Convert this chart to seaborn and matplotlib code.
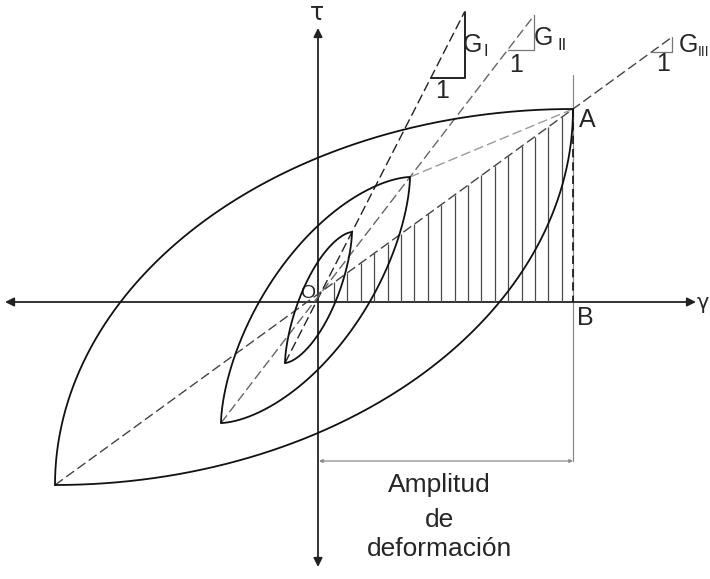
import numpy as np
import pandas as pd
import matplotlib
matplotlib.use("Agg")
import matplotlib.pyplot as plt
import seaborn as sns

sns.set_theme(style="white")
plt.rcParams["font.family"] = ["Liberation Sans", "DejaVu Sans"]

# Hysteresis loops: negative and positive tips (shear strain gamma, shear stress tau)
loop_names = ["small", "medium", "large"]
tip_neg_gamma = [-33, -97, -263]
tip_neg_tau = [-61, -121, -183]
tip_pos_gamma = [34, 92, 255]
tip_pos_tau = [70, 125, 193]
# shape exponent of each loop branch (2 = elliptical arc)
loop_fullness = [1.6, 1.65, 2.0]

# secant modulus labels for the three loops
modulus_labels = ["I", "II", "III"]


def loop_branches(g0, t0, g1, t1, p, n=300):
    s = np.linspace(0, 1, n)
    u = (1 - np.cos(np.pi * s)) / 2
    f = (1 - (1 - u) ** p) ** (1 / p)
    g = g0 + u * (g1 - g0)
    upper = t0 + f * (t1 - t0)
    lower = t0 + (1 - f[::-1]) * (t1 - t0)
    return g, upper, lower


frames = []
for name, g0, t0, g1, t1, p in zip(loop_names, tip_neg_gamma, tip_neg_tau,
                                   tip_pos_gamma, tip_pos_tau, loop_fullness):
    g, up, lo = loop_branches(g0, t0, g1, t1, p)
    frames.append(pd.DataFrame({"gamma": g, "tau": up, "curve": name + "_up"}))
    frames.append(pd.DataFrame({"gamma": g, "tau": lo, "curve": name + "_lo"}))
loops = pd.concat(frames, ignore_index=True)

fig = plt.figure(figsize=(7.10, 5.79), dpi=100)
ax = fig.add_axes([0, 0, 1, 1])
ax.set_xlim(-318, 392)
ax.set_ylim(-277, 302)
ax.set_axis_off()

# coordinate axes with arrowheads
axis_kw = dict(arrowstyle="<|-|>", color="#222222", lw=1.3,
               mutation_scale=13, shrinkA=0, shrinkB=0)
ax.annotate("", xy=(378, 0), xytext=(-313, 0), arrowprops=axis_kw, zorder=2)
ax.annotate("", xy=(0, 274), xytext=(0, -265), arrowprops=axis_kw, zorder=2)
ax.text(-1, 289, "τ", ha="center", va="center", fontsize=17,
        family=["DejaVu Sans"])
ax.text(391, -1, "γ", ha="right", va="center", fontsize=15,
        family=["DejaVu Sans"])

# loop branches
sns.lineplot(data=loops, x="gamma", y="tau", units="curve", estimator=None,
             sort=False, color="#111111", lw=1.3, ax=ax, legend=False, zorder=4)

# secant lines through the loop tips, extended to the slope triangles
line_tops = [290, 287, 265]
triangle_bases = [224, 252, 250]
line_colors = ["#222222", "#666666", "#444444"]
tri_colors = ["#222222", "#777777", "#777777"]
tri_widths = [1.4, 0.9, 0.9]
label_pos = [(154, 257), (225, 264), (370, 257)]
sub_pos = [(168, 250), (244, 257), (391, 250)]
sub_align = ["center", "center", "right"]
sub_size = [12, 12, 10]
one_pos = [(124, 211), (198, 237), (345, 238)]

for i in range(3):
    g0, t0 = tip_neg_gamma[i], tip_neg_tau[i]
    g1, t1 = tip_pos_gamma[i], tip_pos_tau[i]
    slope = (t1 - t0) / (g1 - g0)
    g_top = g1 + (line_tops[i] - t1) / slope
    g_base = g1 + (triangle_bases[i] - t1) / slope
    ax.plot([g0, g_top], [t0, line_tops[i]], color=line_colors[i], lw=1.0,
            dashes=(7, 3), zorder=3)
    ax.plot([g_base, g_top, g_top], [triangle_bases[i], triangle_bases[i],
                                    line_tops[i]],
            color=tri_colors[i], lw=tri_widths[i], zorder=3)
    ax.text(*label_pos[i], "G", ha="center", va="center", fontsize=18)
    ax.text(*sub_pos[i], modulus_labels[i], ha=sub_align[i], va="center",
            fontsize=sub_size[i])
    ax.text(*one_pos[i], "1", ha="center", va="center", fontsize=18)

# chord from the medium loop tip to point A
ax.plot([tip_pos_gamma[1], tip_pos_gamma[2]], [tip_pos_tau[1], tip_pos_tau[2]],
        color="#9a9a9a", lw=1.0, dashes=(7, 3), zorder=3)

# hatched triangle under the large-loop secant (elastic energy O-A-B)
gA, tA = tip_pos_gamma[2], tip_pos_tau[2]
big_slope = (tA - tip_neg_tau[2]) / (gA - tip_neg_gamma[2])
hatch_g = np.arange(16, gA - 5, 13.4)
ax.vlines(hatch_g, 0, tA - big_slope * (gA - hatch_g), color="#4a4a4a",
          lw=0.9, zorder=2)

# vertical through A and B, dimension line for the strain amplitude
ax.plot([gA, gA], [227, -159], color="#8a8a8a", lw=0.9, zorder=1)
ax.plot([gA, gA], [tA, 0], color="#111111", lw=1.2, dashes=(5, 3), zorder=3)
ax.annotate("", xy=(gA, -159), xytext=(1, -159),
            arrowprops=dict(arrowstyle="<|-|>", color="#8a8a8a", lw=0.9,
                            mutation_scale=5, shrinkA=0, shrinkB=0))

ax.text(-10, 9, "O", ha="center", va="center", fontsize=14)
ax.text(269, 182, "A", ha="center", va="center", fontsize=18)
ax.text(267, -16, "B", ha="center", va="center", fontsize=18)
ax.text(121, -183, "Amplitud", ha="center", va="center", fontsize=19)
ax.text(122, -218, "de", ha="center", va="center", fontsize=19)
ax.text(121, -247, "deformación", ha="center", va="center", fontsize=19)

fig.savefig("out.png", dpi=100)
